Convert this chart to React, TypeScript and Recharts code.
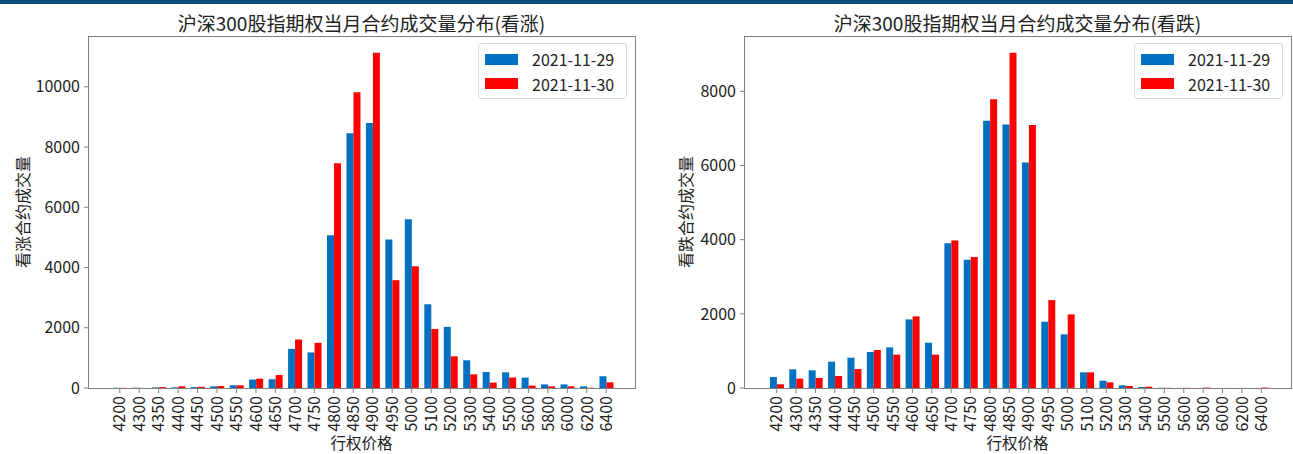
import { Bar, BarChart, XAxis, YAxis } from "recharts";

// strike prices shared by both panels
const strikes = [
  4200, 4300, 4350, 4400, 4450, 4500, 4550, 4600, 4650, 4700, 4750, 4800, 4850,
  4900, 4950, 5000, 5100, 5200, 5300, 5400, 5500, 5600, 5800, 6000, 6200, 6400,
];

// call volume
const callNov29 = [
  8, 10, 20, 20, 30, 55, 90, 280, 290, 1300, 1180, 5070, 8460, 8800, 4930, 5600,
  2780, 2030, 920, 530, 520, 345, 120, 120, 55, 390,
];
const callNov30 = [
  5, 3, 30, 55, 40, 65, 90, 310, 430, 1610, 1500, 7460, 9820, 11130, 3580, 4040,
  1960, 1050, 455, 180, 345, 80, 55, 55, 10, 190,
];

// put volume
const putNov29 = [
  296, 503, 476, 709, 817, 970, 1096, 1850, 1221, 3900, 3458, 7210, 7103, 6080,
  1787, 1446, 422, 197, 72, 27, 5, 3, 2, 2, 2, 2,
];
const putNov30 = [
  99, 251, 269, 323, 512, 1024, 898, 1931, 898, 3980, 3530, 7785, 9040, 7093,
  2370, 1985, 422, 153, 54, 36, 5, 3, 12, 2, 2, 12,
];

const callTicks = [0, 2000, 4000, 6000, 8000, 10000];
const putTicks = [0, 2000, 4000, 6000, 8000];
const dates = ["2021-11-29", "2021-11-30"];
const colors = ["#0070c0", "#ff0000"];

const font = '"Noto Sans CJK SC", "Noto Sans", sans-serif';
const ink = "#222";
const spine = "#808080";

function StrikeTick({ x, y, payload }: any) {
  return (
    <text
      x={x}
      y={y}
      dy="0.36em"
      textAnchor="end"
      transform={`rotate(-90 ${x} ${y})`}
      fontSize={16}
      fill={ink}
      fontFamily={font}
    >
      {payload.value}
    </text>
  );
}

function Panel({
  prev,
  cur,
  ticks,
  title,
  yLabel,
  left,
  width,
  plotLeft,
  plotRight,
  padL,
  padR,
  yLabelX,
}: {
  prev: number[];
  cur: number[];
  ticks: number[];
  title: string;
  yLabel: string;
  left: number;
  width: number;
  plotLeft: number;
  plotRight: number;
  padL: number;
  padR: number;
  yLabelX: number;
}) {
  const data = strikes.map((s, i) => ({ strike: String(s), prev: prev[i], cur: cur[i] }));
  const yMax = Math.max(...prev, ...cur) * 1.05;
  const plotTop = 36;
  const plotBottom = 388;
  const center = (plotLeft + plotRight) / 2;
  const legendRight = plotRight - 8;

  return (
    <>
      <div style={{ position: "absolute", left, top: 0 }}>
        <BarChart
          width={width}
          height={454}
          data={data}
          margin={{ top: plotTop, right: left + width - plotRight, bottom: 0, left: plotLeft - left - 60 }}
          barCategoryGap="15%"
          barGap={0}
        >
          <XAxis
            dataKey="strike"
            interval={0}
            height={454 - plotBottom}
            padding={{ left: padL, right: padR }}
            axisLine={false}
            tickLine={{ stroke: spine }}
            tickSize={5}
            tickMargin={3}
            tick={<StrikeTick />}
          />
          <YAxis
            width={60}
            type="number"
            domain={[0, yMax]}
            ticks={ticks}
            allowDataOverflow
            axisLine={false}
            tickLine={{ stroke: spine }}
            tickSize={4}
            tickMargin={4}
            tick={{ fontSize: 16, fill: ink, fontFamily: font }}
          />
          <Bar dataKey="prev" fill={colors[0]} isAnimationActive={false} />
          <Bar dataKey="cur" fill={colors[1]} isAnimationActive={false} />
        </BarChart>
      </div>
      {/* axes frame */}
      <div
        style={{
          position: "absolute",
          left: plotLeft,
          top: plotTop,
          width: plotRight - plotLeft + 1,
          height: plotBottom - plotTop + 1,
          border: `1px solid ${spine}`,
          boxSizing: "border-box",
          pointerEvents: "none",
        }}
      />
      <div
        style={{
          position: "absolute",
          left: center - 300,
          top: 11,
          width: 600,
          textAlign: "center",
          fontSize: 19,
          lineHeight: "24px",
          color: ink,
          fontFamily: font,
        }}
      >
        {title}
      </div>
      <div
        style={{
          position: "absolute",
          left: yLabelX - 100,
          top: (plotTop + plotBottom) / 2 - 10,
          width: 200,
          height: 20,
          lineHeight: "20px",
          textAlign: "center",
          fontSize: 16,
          color: ink,
          fontFamily: font,
          transform: "rotate(-90deg)",
        }}
      >
        {yLabel}
      </div>
      <div
        style={{
          position: "absolute",
          left: center - 100,
          top: 433,
          width: 200,
          height: 19,
          lineHeight: "19px",
          textAlign: "center",
          fontSize: 15.5,
          color: ink,
          fontFamily: font,
        }}
      >
        行权价格
      </div>
      <div
        style={{
          position: "absolute",
          left: legendRight - 149,
          top: 43,
          width: 149,
          height: 56,
          border: "1px solid #d9d9d9",
          borderRadius: 3,
          background: "rgba(255,255,255,0.8)",
          boxSizing: "border-box",
          fontFamily: font,
          fontSize: 16,
          color: ink,
        }}
      >
        {dates.map((d, i) => (
          <div
            key={d}
            style={{ position: "absolute", left: 0, top: 4 + i * 24.6, height: 22, width: 149 }}
          >
            <span
              style={{
                position: "absolute",
                left: 6,
                top: 5.5,
                width: 33,
                height: 11,
                background: colors[i],
              }}
            />
            <span style={{ position: "absolute", left: 53, top: 0, lineHeight: "22px" }}>{d}</span>
          </div>
        ))}
      </div>
    </>
  );
}

export default function App() {
  return (
    <div
      style={{
        position: "absolute",
        left: 0,
        top: 0,
        width: 1293,
        height: 454,
        background: "#fff",
        overflow: "hidden",
      }}
    >
      <div style={{ position: "absolute", left: 0, top: 0, width: 1293, height: 4, background: "#0c4e7e" }} />
      <Panel
        prev={callNov29}
        cur={callNov30}
        ticks={callTicks}
        title="沪深300股指期权当月合约成交量分布(看涨)"
        yLabel="看涨合约成交量"
        left={0}
        width={646}
        plotLeft={88}
        plotRight={635}
        padL={22}
        padR={19}
        yLabelX={22}
      />
      <Panel
        prev={putNov29}
        cur={putNov30}
        ticks={putTicks}
        title="沪深300股指期权当月合约成交量分布(看跌)"
        yLabel="看跌合约成交量"
        left={646}
        width={647}
        plotLeft={744}
        plotRight={1291}
        padL={23}
        padR={20}
        yLabelX={685}
      />
    </div>
  );
}
